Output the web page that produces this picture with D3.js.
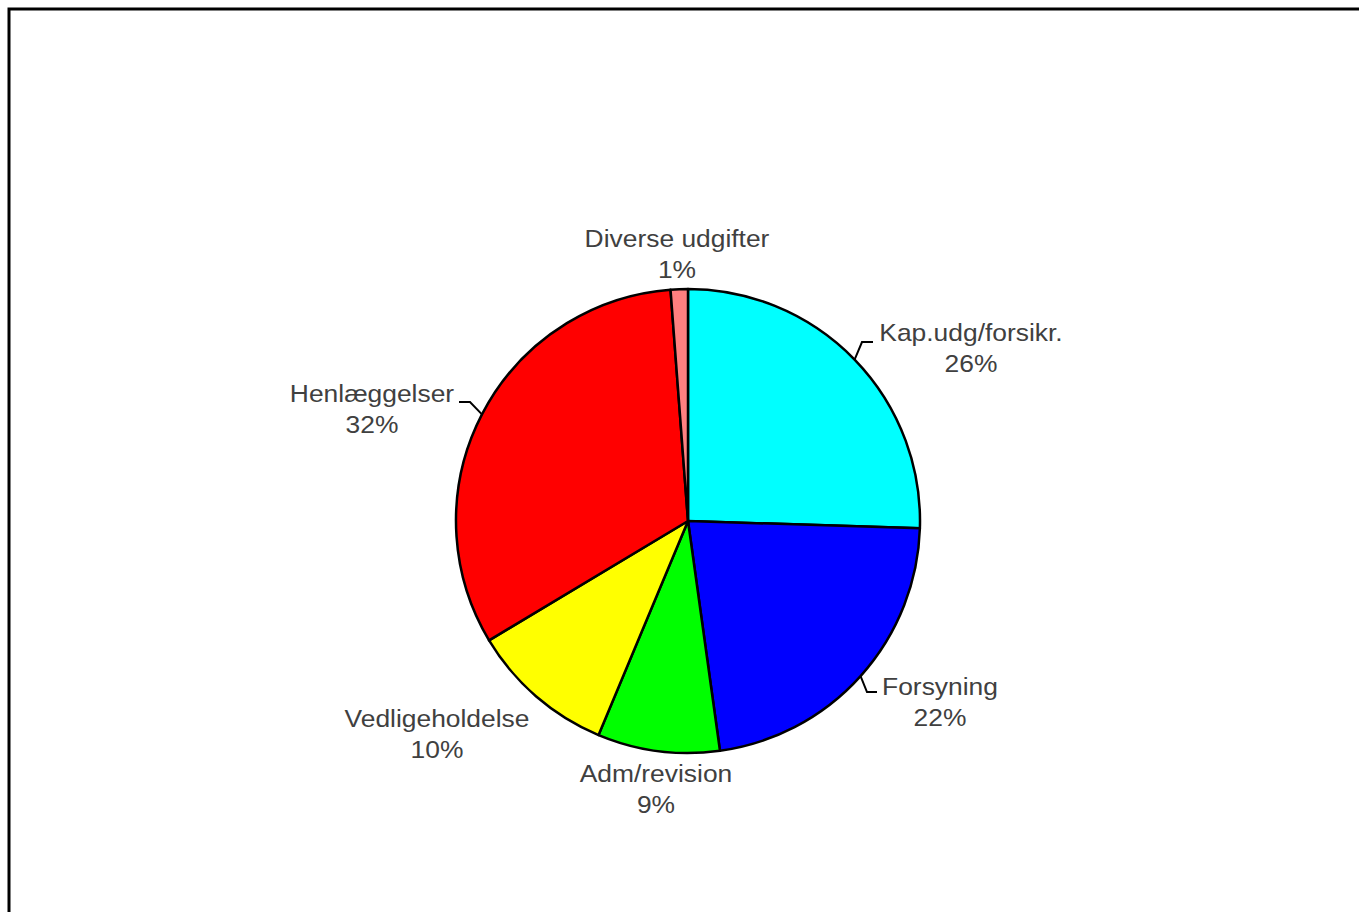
<!DOCTYPE html>
<html>
<head>
<meta charset="utf-8">
<script src="https://cdn.jsdelivr.net/npm/d3@7"></script>
<style>
  body { margin: 0; background: #fff; }
  svg { display: block; }
  text { font-family: "Liberation Sans", Arial, sans-serif; font-size: 24px; fill: #404040; }
</style>
</head>
<body>
<svg class="svg" width="1359" height="912"></svg>
<script>
const categories = ['Kap.udg/forsikr.', 'Forsyning', 'Adm/revision', 'Vedligeholdelse', 'Henlæggelser', 'Diverse udgifter']
const shares = [25.5, 22.3, 8.5, 10.1, 32.4, 1.2]
const percentLabels = ['26%', '22%', '9%', '10%', '32%', '1%']
const colors = ['#00ffff', '#0000ff', '#00ff00', '#ffff00', '#ff0000', '#ff8080']

// label centre offsets from the pie centre, in pixels (first line baseline)
const labelPos = [[283, -180], [252, 174], [-32, 261], [-251, 206], [-316, -119], [-11, -274]]
// which labels get a leader line: [elbowDx, elbowDy, endDx] relative to pie centre
const leaders = { 0: [174, -179, 185], 1: [179, 171, 189], 4: [-218, -119, -229] }

const cx = 688, cy = 521, radius = 232
const svg = d3.select('.svg')

svg.append('rect')
    .attr('x', 9).attr('y', 9)
    .attr('width', 1400).attr('height', 1000)
    .attr('fill', 'none').attr('stroke', '#000').attr('stroke-width', 3)

const chart = svg.append('g').attr('transform', `translate(${cx},${cy})`)

const pie = d3.pie().sort(null).value(d => d)
const arcs = pie(shares)
const arc = d3.arc().innerRadius(0).outerRadius(radius)
const edge = d3.arc().innerRadius(radius).outerRadius(radius)

chart.selectAll('.slice').data(arcs).join('path')
    .classed('slice', true)
    .attr('d', arc)
    .attr('fill', (d, i) => colors[i])
    .attr('stroke', '#000')
    .attr('stroke-width', 2.5)
    .attr('stroke-linejoin', 'round')

chart.selectAll('.leader').data(arcs.filter((d, i) => leaders[i])).join('polyline')
    .classed('leader', true)
    .attr('points', d => {
        const [ex, ey] = edge.centroid(d)
        const [bx, by, tx] = leaders[d.index]
        return `${ex},${ey} ${bx},${by} ${tx},${by}`
    })
    .attr('fill', 'none')
    .attr('stroke', '#000')
    .attr('stroke-width', 2)

// the original's text is slightly wider than Arial, so stretch it a little
const labels = chart.selectAll('.lbl').data(arcs).join('text')
    .classed('lbl', true)
    .attr('text-anchor', 'middle')
    .attr('transform', (d, i) => `translate(${labelPos[i][0]},${labelPos[i][1]}) scale(1.1,1)`)

labels.append('tspan').attr('x', 0).attr('dy', 0).text((d, i) => categories[i])
labels.append('tspan').attr('x', 0).attr('dy', 31).text((d, i) => percentLabels[i])
</script>
</body>
</html>
